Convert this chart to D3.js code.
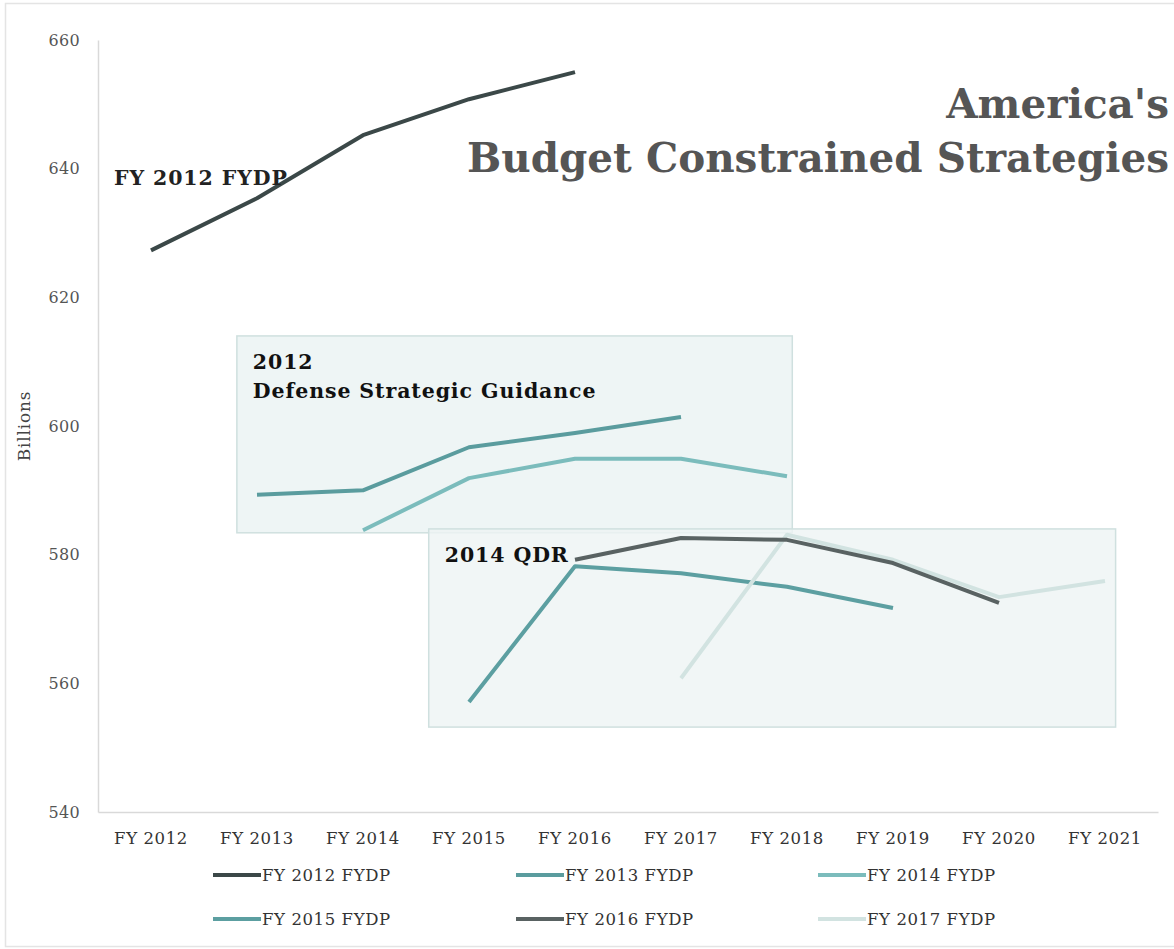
<!DOCTYPE html>
<html>
<head>
<meta charset="utf-8">
<script src="https://cdn.jsdelivr.net/npm/d3@7"></script>
<style>
  html, body { margin: 0; padding: 0; background: #fff; }
  svg { display: block; font-family: "DejaVu Serif", "Liberation Serif", serif; }
</style>
</head>
<body>
<svg id="chart" width="1174" height="949"></svg>
<script>
// ---- data ----
const years = ["FY 2012","FY 2013","FY 2014","FY 2015","FY 2016","FY 2017","FY 2018","FY 2019","FY 2020","FY 2021"];
const yTicks = [540, 560, 580, 600, 620, 640, 660];
const seriesNames = ["FY 2012 FYDP","FY 2013 FYDP","FY 2014 FYDP","FY 2015 FYDP","FY 2016 FYDP","FY 2017 FYDP"];
const seriesStart = [0, 1, 2, 3, 4, 5]; // index into years of first value
const fy2012 = [627.3, 635.4, 645.2, 650.8, 655.0];
const fy2013 = [589.3, 590.0, 596.7, 598.9, 601.4];
const fy2014 = [583.8, 591.9, 594.9, 594.9, 592.2];
const fy2015 = [557.1, 578.2, 577.1, 575.0, 571.7];
const fy2016 = [579.2, 582.6, 582.3, 578.7, 572.5];
const fy2017 = [560.8, 583.1, 579.2, 573.4, 575.9];
const seriesValues = [fy2012, fy2013, fy2014, fy2015, fy2016, fy2017];
const seriesColors = ["#3b4848", "#5a9c9e", "#7bbcbc", "#5c9fa1", "#596262", "#d2e3e1"];
// annotation boxes: [x-start index (fractional), x-end index, top value, bottom value]
const boxLabels = [["2012", "Defense Strategic Guidance"], ["2014 QDR"]];
const boxX0 = [1.31, 3.12];
const boxX1 = [6.55, 9.60];
const boxTop = [614.0, 584.0];
const boxBottom = [583.4, 553.2];

// ---- layout ----
const svg = d3.select("#chart");
const W = 1174, H = 949;
const plotLeft = 98, plotRight = 1158, plotTop = 40, plotBottom = 812;

const x = d3.scaleBand().domain(years).range([plotLeft, plotRight]);
const xi = d3.scaleLinear().domain([0, years.length]).range([plotLeft, plotRight]);
const y = d3.scaleLinear().domain([540, 660]).range([plotBottom, plotTop]);

// outer frame
svg.append("rect").attr("x", 5.5).attr("y", 3.5).attr("width", W).attr("height", 943)
  .attr("fill", "none").attr("stroke", "#e4e4e4").attr("stroke-width", 1.5);

// boxes
boxLabels.forEach((lbl, i) => {
  svg.append("rect")
    .attr("x", xi(boxX0[i])).attr("y", y(boxTop[i]))
    .attr("width", xi(boxX1[i]) - xi(boxX0[i]))
    .attr("height", y(boxBottom[i]) - y(boxTop[i]))
    .attr("fill", i === 0 ? "#eef5f5" : "rgba(238,244,244,0.8)")
    .attr("stroke", "#cfe0df").attr("stroke-width", 1.5);
});

// axes
const yAxis = svg.append("g").attr("transform", `translate(${plotLeft},0)`)
  .call(d3.axisLeft(y).tickValues(yTicks).tickSize(0).tickPadding(18));
yAxis.select(".domain").attr("stroke", "#d9d9d9").attr("stroke-width", 1.5);
yAxis.selectAll("text").attr("font-size", 16).attr("fill", "#555")
  .attr("font-family", "DejaVu Serif").attr("letter-spacing", 0.3);

const xAxis = svg.append("g").attr("transform", `translate(0,${plotBottom})`)
  .call(d3.axisBottom(x).tickSize(0).tickPadding(20));
xAxis.select(".domain").attr("stroke", "#d9d9d9").attr("stroke-width", 1.5);
xAxis.selectAll("text").attr("font-size", 16.5).attr("fill", "#333")
  .attr("font-family", "DejaVu Serif").attr("letter-spacing", 0.6);

// y label
svg.append("text").attr("transform", `translate(30,${y(600)}) rotate(-90)`)
  .attr("text-anchor", "middle").attr("font-size", 17).attr("letter-spacing", 0.8)
  .attr("fill", "#444").text("Billions");

// lines
const line = d3.line().x(d => x(d.year) + x.bandwidth() / 2).y(d => y(d.v));
const order = [0, 1, 2, 3, 5, 4]; // FY2016 drawn above FY2017 as in the reference
order.forEach(i => {
  const vals = seriesValues[i];
  const pts = vals.map((v, j) => ({ year: years[seriesStart[i] + j], v }));
  svg.append("path").datum(pts).attr("d", line)
    .attr("fill", "none").attr("stroke", seriesColors[i]).attr("stroke-width", 4)
    .attr("stroke-linejoin", "round");
});

// annotation texts
svg.append("text").attr("x", 114).attr("y", 185).attr("font-size", 20.5).attr("font-weight", "bold")
  .attr("letter-spacing", 0.9).attr("fill", "#222").text("FY 2012 FYDP");
boxLabels.forEach((lbl, i) => {
  lbl.forEach((t, k) => {
    svg.append("text").attr("x", xi(boxX0[i]) + 16).attr("y", y(boxTop[i]) + 33 + k * 29)
      .attr("font-size", 20.5).attr("font-weight", "bold").attr("letter-spacing", 0.9)
      .attr("fill", "#111").text(t);
  });
});

// title
const title = ["America's", "Budget Constrained Strategies"];
title.forEach((t, k) => {
  svg.append("text").attr("x", 1169).attr("y", 118 + k * 54)
    .attr("text-anchor", "end").attr("font-size", 40.5).attr("font-weight", "bold")
    .attr("fill", "#555").text(t);
});

// legend
const legX = [213, 516, 818];
const legY = [875, 919];
seriesNames.forEach((n, i) => {
  const cx = legX[i % 3], cy = legY[Math.floor(i / 3)];
  svg.append("line").attr("x1", cx).attr("x2", cx + 48).attr("y1", cy).attr("y2", cy)
    .attr("stroke", seriesColors[i]).attr("stroke-width", 4);
  svg.append("text").attr("x", cx + 49).attr("y", cy + 6).attr("font-size", 16.5)
    .attr("letter-spacing", 0.6).attr("fill", "#333").text(n);
});
</script>
</body>
</html>
